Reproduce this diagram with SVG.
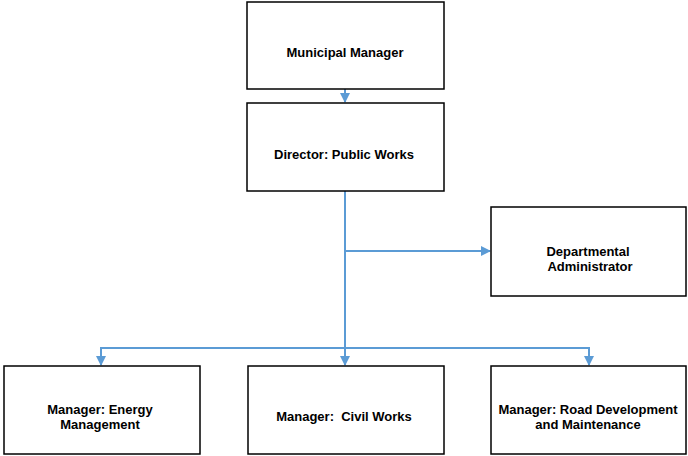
<svg xmlns="http://www.w3.org/2000/svg" width="688" height="456" viewBox="0 0 688 456">
  <style>
    .box { fill: #ffffff; stroke: #000000; stroke-width: 1.5; }
    .lbl { font-family: "Liberation Sans", Arial, sans-serif; font-weight: bold; font-size: 13px; fill: #000000; text-anchor: middle; }
    .conn { fill: none; stroke: #5B9BD5; stroke-width: 2; }
  </style>
  <defs>
    <marker id="arrow" markerWidth="10" markerHeight="10" refX="9" refY="5" orient="auto" markerUnits="userSpaceOnUse">
      <path d="M0,0 L10,5 L0,10 Z" fill="#5B9BD5"/>
    </marker>
  </defs>
  <rect width="688" height="456" fill="#ffffff"/>

  <g id="connectors">
    <path class="conn" d="M345,89 V102" marker-end="url(#arrow)"/>
    <path class="conn" d="M345,191 V365" marker-end="url(#arrow)"/>
    <path class="conn" d="M345,251 H490" marker-end="url(#arrow)"/>
    <path class="conn" d="M101,365 V348 H589 V365" marker-end="url(#arrow)"/>
    <path class="conn" d="M101,348 V365" marker-end="url(#arrow)"/>
  </g>

  <g id="municipal-manager">
    <rect class="box" x="247" y="2" width="197" height="87"/>
    <text class="lbl" x="345" y="57">Municipal Manager</text>
  </g>

  <g id="director-public-works">
    <rect class="box" x="247" y="103" width="197" height="88"/>
    <text class="lbl" x="344" y="159">Director: Public Works</text>
  </g>

  <g id="departmental-administrator">
    <rect class="box" x="491" y="207" width="195" height="89"/>
    <text class="lbl" x="588" y="256">Departmental</text>
    <text class="lbl" x="590" y="271">Administrator</text>
  </g>

  <g id="manager-energy">
    <rect class="box" x="4" y="366" width="196" height="88"/>
    <text class="lbl" x="100" y="414">Manager: Energy</text>
    <text class="lbl" x="100" y="429">Management</text>
  </g>

  <g id="manager-civil-works">
    <rect class="box" x="248" y="366" width="196" height="88"/>
    <text class="lbl" x="344" y="421" xml:space="preserve">Manager:  Civil Works</text>
  </g>

  <g id="manager-road">
    <rect class="box" x="491" y="366" width="195" height="88"/>
    <text class="lbl" x="588" y="414">Manager: Road Development</text>
    <text class="lbl" x="588" y="429">and Maintenance</text>
  </g>
</svg>
